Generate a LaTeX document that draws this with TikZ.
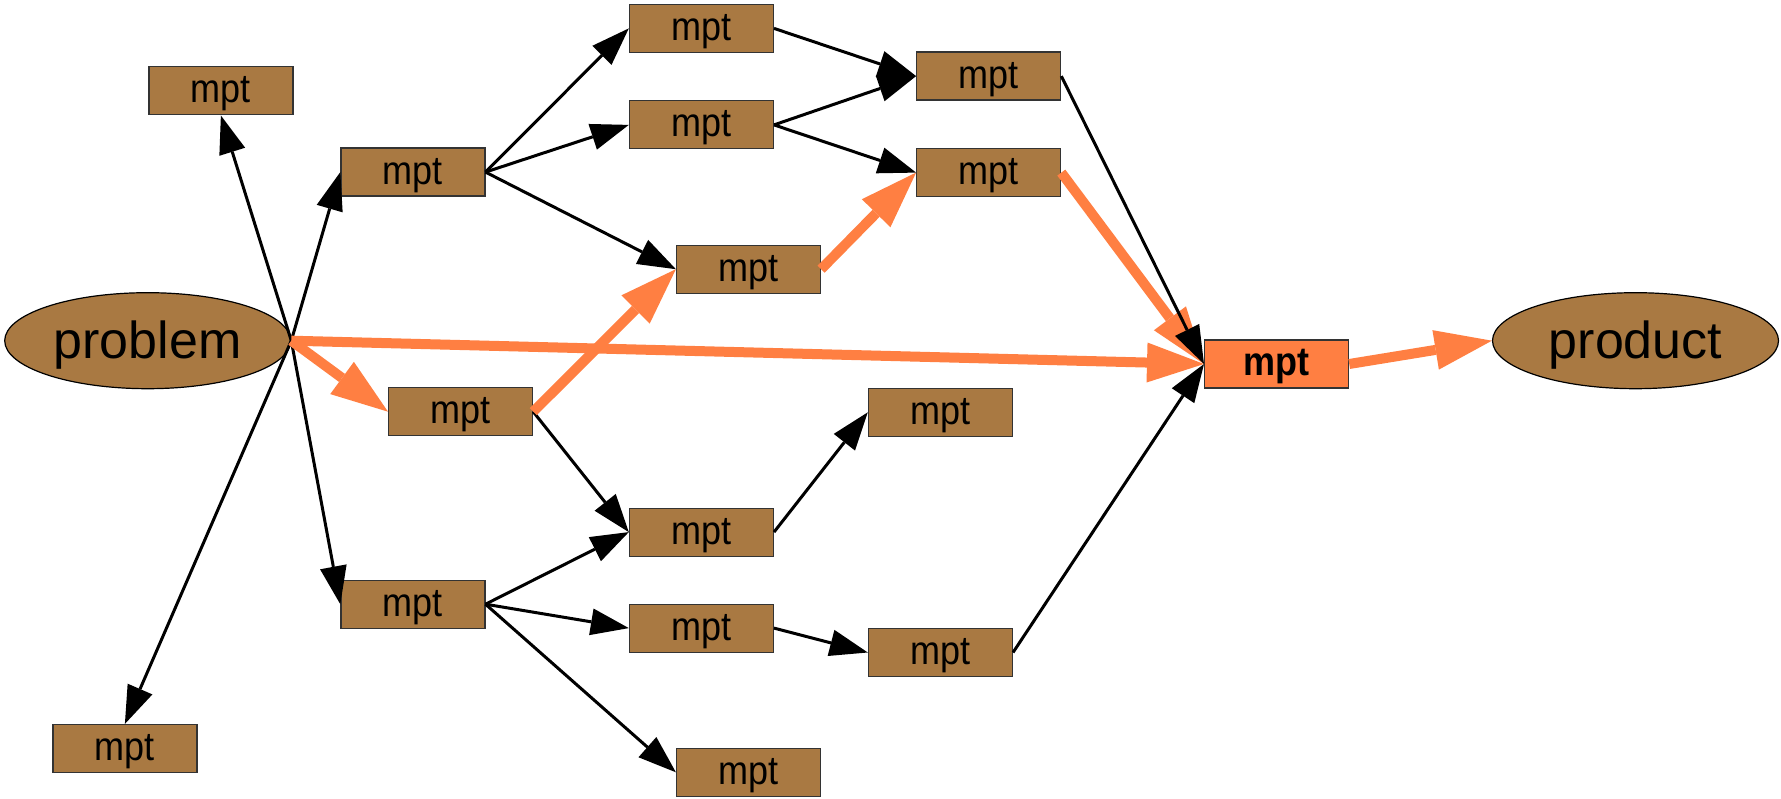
\documentclass[tikz,border=0pt]{standalone}
\usepackage{fontspec}
\setmainfont{Liberation Sans}
\usetikzlibrary{arrows.meta,shapes.geometric}
\definecolor{brn}{RGB}{169,121,66}
\definecolor{org}{RGB}{255,127,66}
\newcommand{\talltxt}[1]{\scalebox{1}[1.12]{#1}}
\begin{document}
\begin{tikzpicture}[x=1pt,y=-1pt,
 box/.style={draw=black!80, line width=1.2pt, fill=brn, minimum width=144pt, minimum height=48pt, inner sep=0pt, text height=27pt, text depth=3pt, font=\fontsize{36}{40}\selectfont},
 hot/.style={box, fill=org, font=\fontsize{36}{40}\selectfont\bfseries},
 oval/.style={ellipse, draw=black, line width=1.2pt, fill=brn, minimum width=286pt, minimum height=96pt, inner sep=0pt, text height=40pt, text depth=4.8pt, font=\fontsize{52}{60}\selectfont},
 blk/.style={draw=black, line width=3pt, -{Triangle[length=38pt,width=27pt,line width=0pt]}},
 orn/.style={draw=org, line width=10pt, -{Triangle[length=57pt,width=40pt,line width=0pt]}}]
\useasboundingbox (0,0) rectangle (1781,799);
\node[oval] (prob) at (147.7,340.7) {problem};
\node[oval] (prod) at (1635.5,340.7) {product};
\node[box] (mTL) at (220.9,90.9) {\talltxt{mpt}};
\node[box] (mA) at (412.9,172.1) {\talltxt{mpt}};
\node[box] (mTop) at (701.4,28.4) {\talltxt{mpt}};
\node[box] (mSec) at (701.4,124.9) {\talltxt{mpt}};
\node[box] (mR1) at (988.7,76.1) {\talltxt{mpt}};
\node[box] (mR2) at (988.7,172.6) {\talltxt{mpt}};
\node[box] (mMid) at (748.5,269.2) {\talltxt{mpt}};
\node[box] (mB) at (460.6,411.7) {\talltxt{mpt}};
\node[hot] (mBold) at (1276.6,364.0) {\talltxt{mpt}};
\node[box] (mC) at (940.4,412.3) {\talltxt{mpt}};
\node[box] (mD) at (701.4,532.1) {\talltxt{mpt}};
\node[box] (mE) at (412.9,604.2) {\talltxt{mpt}};
\node[box] (mF) at (701.4,628.1) {\talltxt{mpt}};
\node[box] (mG) at (940.4,652.5) {\talltxt{mpt}};
\node[box] (mBL) at (124.9,748.5) {\talltxt{mpt}};
\node[box] (mBot) at (748.5,772.3) {\talltxt{mpt}};

\draw[blk] (prob.east) -- (mTL.south);
\draw[blk] (prob.east) -- (mA.west);
\draw[blk] (prob.east) -- (mE.west);
\draw[blk] (prob.east) -- (mBL.north);
\draw[blk] (mA.east) -- (mTop.west);
\draw[blk] (mA.east) -- (mSec.west);
\draw[blk] (mA.east) -- (mMid.west);
\draw[blk] (mTop.east) -- (mR1.west);
\draw[blk] (mSec.east) -- (mR1.west);
\draw[blk] (mSec.east) -- (mR2.west);
\draw[blk] (mB.east) -- (mD.west);
\draw[blk] (mD.east) -- (mC.west);
\draw[blk] (mE.east) -- (mD.west);
\draw[blk] (mE.east) -- (mF.west);
\draw[blk] (mE.east) -- (mBot.west);
\draw[blk] (mF.east) -- (mG.west);
\draw[blk] (mG.east) -- (mBold.west);
\draw[orn] (prob.east) -- (mB.west);
\draw[orn] (prob.east) -- (mBold.west);
\draw[orn] (mB.east) -- (mMid.west);
\draw[orn] (mMid.east) -- (mR2.west);
\draw[orn] (mR2.east) -- (mBold.west);
\draw[blk] (mR1.east) -- (mBold.west);
\draw[orn] (mBold.east) -- (prod.west);
\end{tikzpicture}
\end{document}
